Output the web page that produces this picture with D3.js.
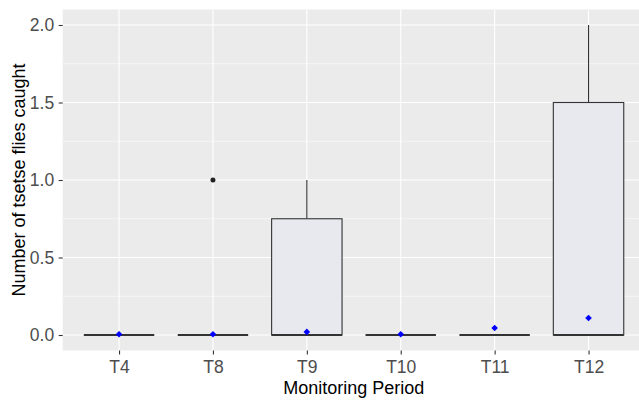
<!DOCTYPE html>
<html>
<head>
<meta charset="utf-8">
<script src="https://cdn.jsdelivr.net/npm/d3@7"></script>
<style>
  body { margin: 0; background: #fff; }
  svg { display: block; }
  svg text { font-family: "Liberation Sans", Arial, sans-serif; }
</style>
</head>
<body>
<div class="svg-content"></div>
<script>
const periods = ["T4", "T8", "T9", "T10", "T11", "T12"];
const lowerWhisker = [0, 0, 0, 0, 0, 0];
const q1 = [0, 0, 0, 0, 0, 0];
const medians = [0, 0, 0, 0, 0, 0];
const q3 = [0, 0, 0.75, 0, 0, 1.5];
const upperWhisker = [0, 0, 1.0, 0, 0, 2.0];
const means = [0.005, 0.005, 0.02, 0.005, 0.045, 0.11];
const outliers = [[], [1.0], [], [], [], []];
const yTicks = [0, 0.5, 1.0, 1.5, 2.0];
const yMinor = [0.25, 0.75, 1.25, 1.75];

const svgWidth = 639;
const svgHeight = 400;

const panelLeft = 62.7;
const panelTop = 9.5;
const panelBottom = 350.5;
const step = 93.9;
const panelRight = panelLeft + step * 6.2;

const xScale = d3.scalePoint()
                 .domain(periods)
                 .range([panelLeft + 0.6 * step, panelRight - 0.6 * step]);

const yScale = d3.scaleLinear()
                 .domain([-0.1, 2.1])
                 .range([panelBottom, panelTop]);

const boxWidth = 0.75 * step;

const svg = d3.select(".svg-content")
              .append("svg")
              .attr("width", svgWidth)
              .attr("height", svgHeight);

svg.append("rect")
   .attr("x", panelLeft)
   .attr("y", panelTop)
   .attr("width", panelRight - panelLeft)
   .attr("height", panelBottom - panelTop)
   .attr("fill", "#ebebeb");

svg.selectAll(".minor")
   .data(yMinor)
   .enter()
   .append("line")
   .attr("x1", panelLeft)
   .attr("x2", panelRight)
   .attr("y1", d => yScale(d))
   .attr("y2", d => yScale(d))
   .attr("stroke", "#fff")
   .attr("stroke-width", 0.55);

svg.selectAll(".hgrid")
   .data(yTicks)
   .enter()
   .append("line")
   .attr("x1", panelLeft)
   .attr("x2", panelRight)
   .attr("y1", d => yScale(d))
   .attr("y2", d => yScale(d))
   .attr("stroke", "#fff")
   .attr("stroke-width", 1.1);

svg.selectAll(".vgrid")
   .data(periods)
   .enter()
   .append("line")
   .attr("x1", d => xScale(d))
   .attr("x2", d => xScale(d))
   .attr("y1", panelTop)
   .attr("y2", panelBottom)
   .attr("stroke", "#fff")
   .attr("stroke-width", 1.1);

const boxes = periods.map((p, i) => ({
  period: p,
  lo: lowerWhisker[i],
  q1: q1[i],
  med: medians[i],
  q3: q3[i],
  hi: upperWhisker[i],
  mean: means[i],
  out: outliers[i]
}));

const g = svg.selectAll(".box")
             .data(boxes)
             .enter()
             .append("g")
             .attr("class", "box");

g.append("line")
 .attr("x1", d => xScale(d.period))
 .attr("x2", d => xScale(d.period))
 .attr("y1", d => yScale(d.q3))
 .attr("y2", d => yScale(d.hi))
 .attr("stroke", "#333")
 .attr("stroke-width", 1.1);

g.append("line")
 .attr("x1", d => xScale(d.period))
 .attr("x2", d => xScale(d.period))
 .attr("y1", d => yScale(d.q1))
 .attr("y2", d => yScale(d.lo))
 .attr("stroke", "#333")
 .attr("stroke-width", 1.1);

g.append("rect")
 .attr("x", d => xScale(d.period) - boxWidth / 2)
 .attr("y", d => yScale(d.q3))
 .attr("width", boxWidth)
 .attr("height", d => yScale(d.q1) - yScale(d.q3))
 .attr("fill", "#e7e9ef")
 .attr("stroke", "#333")
 .attr("stroke-width", 1.1);

g.append("line")
 .attr("x1", d => xScale(d.period) - boxWidth / 2)
 .attr("x2", d => xScale(d.period) + boxWidth / 2)
 .attr("y1", d => yScale(d.med))
 .attr("y2", d => yScale(d.med))
 .attr("stroke", "#333")
 .attr("stroke-width", 2.2);

g.selectAll(".outlier")
 .data(d => d.out.map(v => ({ period: d.period, value: v })))
 .enter()
 .append("circle")
 .attr("cx", d => xScale(d.period))
 .attr("cy", d => yScale(d.value))
 .attr("r", 2.5)
 .attr("fill", "#222");

// mean marker: ggplot shape 18 style (square turned 45 degrees)
g.append("path")
 .attr("d", d3.symbol().type(d3.symbolSquare).size(22))
 .attr("transform", d => "translate(" + xScale(d.period) + "," + yScale(d.mean) + ") rotate(45)")
 .attr("fill", "#0000ff");

const xAxis = d3.axisBottom(xScale).tickSize(4).tickPadding(6.5);
const yAxis = d3.axisLeft(yScale).tickValues(yTicks).tickFormat(d3.format(".1f")).tickSize(4).tickPadding(4.5);

const xg = svg.append("g")
              .attr("transform", "translate(0," + panelBottom + ")")
              .call(xAxis);
xg.select(".domain").remove();
xg.selectAll("line").attr("stroke", "#333").attr("stroke-width", 1.1);
xg.selectAll("text").attr("fill", "#4d4d4d").style("font-size", "17.5px");

const yg = svg.append("g")
              .attr("transform", "translate(" + panelLeft + ",0)")
              .call(yAxis);
yg.select(".domain").remove();
yg.selectAll("line").attr("stroke", "#333").attr("stroke-width", 1.1);
yg.selectAll("text").attr("fill", "#4d4d4d").style("font-size", "17.5px");

svg.append("text")
   .attr("x", (panelLeft + panelRight) / 2)
   .attr("y", 394)
   .attr("text-anchor", "middle")
   .style("font-size", "18px")
   .attr("fill", "#000")
   .text("Monitoring Period");

svg.append("text")
   .attr("transform", "translate(25," + (panelTop + panelBottom) / 2 + ") rotate(-90)")
   .attr("text-anchor", "middle")
   .style("font-size", "18px")
   .attr("fill", "#000")
   .text("Number of tsetse flies caught");
</script>
</body>
</html>
